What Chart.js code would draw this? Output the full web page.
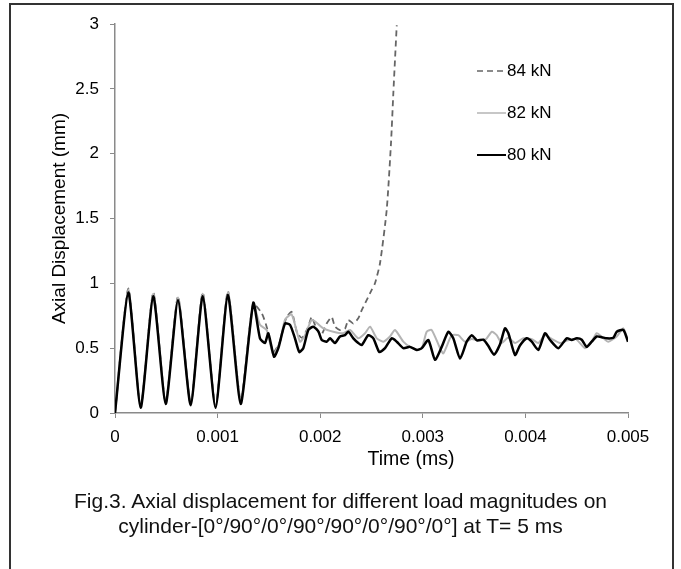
<!DOCTYPE html>
<html>
<head>
<meta charset="utf-8">
<script src="https://cdn.jsdelivr.net/npm/chart.js@4/dist/chart.umd.min.js"></script>
<style>
    body { margin: 0; background: #fff; font-family: "Liberation Sans", Arial, sans-serif; }
    #frame { position: absolute; left: 9px; top: 3px; width: 661px; height: 620px; border: 2px solid #333; }
    #chart { position: absolute; left: 0; top: 0; }
    #caption { position: absolute; left: 0; top: 488px; width: 681px; text-align: center;
               font-size: 21px; line-height: 25px; color: #111; }
</style>
</head>
<body>
<div id="frame"></div>
<canvas id="chart" width="681" height="569"></canvas>
<div id="caption">Fig.3. Axial displacement for different load magnitudes on<br>cylinder-[0°/90°/0°/90°/90°/0°/90°/0°] at T= 5 ms</div>

<script>
// ── Data (time, displacement) ──
const seriesLabels = ["80 kN", "82 kN", "84 kN"];

const t80 = [0, 0.00013, 0.00025, 0.000373, 0.000494, 0.000614, 0.000738, 0.000855, 0.00098, 0.0011, 0.001225, 0.001348,
    0.001413, 0.001462, 0.001494, 0.00155, 0.001592, 0.001657, 0.001706, 0.001754, 0.001796, 0.001835, 0.001884, 0.001933,
    0.001982, 0.002015, 0.002063, 0.002096, 0.002144, 0.002193, 0.002242, 0.002274, 0.002323, 0.002371, 0.002405, 0.002469,
    0.002518, 0.002576, 0.002632, 0.002697, 0.002746, 0.00281, 0.002875, 0.002941, 0.00299, 0.003054, 0.003119, 0.003184,
    0.003249, 0.003297, 0.003363, 0.003428, 0.003477, 0.003528, 0.00359, 0.003636, 0.003694, 0.003753, 0.003801, 0.003834,
    0.003899, 0.003947, 0.004013, 0.004062, 0.004126, 0.004191, 0.00424, 0.004321, 0.004403, 0.004451, 0.0045, 0.004549,
    0.004597, 0.004646, 0.004695, 0.004744, 0.004793, 0.004857, 0.00489, 0.004955, 0.005];
const v80 = [0, 0.93, 0.04, 0.90, 0.07, 0.87, 0.06, 0.90, 0.04, 0.91, 0.07, 0.85,
    0.576, 0.54, 0.615, 0.434, 0.50, 0.69, 0.68, 0.576, 0.47, 0.50, 0.64, 0.666,
    0.63, 0.563, 0.55, 0.576, 0.54, 0.59, 0.60, 0.627, 0.576, 0.54, 0.524, 0.60,
    0.576, 0.47, 0.50, 0.576, 0.55, 0.50, 0.51, 0.486, 0.50, 0.563, 0.41, 0.51,
    0.627, 0.576, 0.42, 0.55, 0.60, 0.56, 0.565, 0.52, 0.45, 0.53, 0.653, 0.615,
    0.447, 0.52, 0.576, 0.55, 0.486, 0.615, 0.563, 0.50, 0.576, 0.563, 0.576, 0.565,
    0.51, 0.55, 0.59, 0.585, 0.576, 0.58, 0.627, 0.64, 0.55];

const t82 = [0, 0.00013, 0.00025, 0.000373, 0.000494, 0.000614, 0.000738, 0.000855, 0.00098, 0.0011, 0.001225, 0.001348,
    0.001413, 0.001478, 0.001543, 0.001608, 0.001657, 0.001722, 0.001803, 0.001852, 0.001917, 0.001959, 0.00203, 0.002128,
    0.002225, 0.002291, 0.002371, 0.002437, 0.002486, 0.002551, 0.002615, 0.00268, 0.002729, 0.00281, 0.002875, 0.002941,
    0.00299, 0.003038, 0.003087, 0.003168, 0.0032, 0.003282, 0.003346, 0.003411, 0.003477, 0.003538, 0.003616, 0.003672,
    0.00372, 0.003769, 0.00383, 0.003899, 0.00398, 0.004062, 0.004126, 0.004191, 0.004259, 0.004337, 0.004415, 0.004493,
    0.004581, 0.004639, 0.004695, 0.004756, 0.004808, 0.00489, 0.004955, 0.005];
const v82 = [0, 0.95, 0.05, 0.92, 0.08, 0.89, 0.07, 0.92, 0.05, 0.93, 0.09, 0.84,
    0.68, 0.64, 0.45, 0.55, 0.72, 0.76, 0.55, 0.60, 0.72, 0.70, 0.653, 0.627,
    0.615, 0.64, 0.576, 0.615, 0.666, 0.576, 0.55, 0.59, 0.64, 0.55, 0.51, 0.49,
    0.50, 0.627, 0.64, 0.50, 0.46, 0.60, 0.60, 0.55, 0.57, 0.56, 0.57, 0.627,
    0.60, 0.54, 0.58, 0.54, 0.576, 0.57, 0.54, 0.60, 0.57, 0.54, 0.56, 0.57,
    0.50, 0.54, 0.615, 0.58, 0.55, 0.59, 0.653, 0.56];

const t84 = [0, 0.00013, 0.00025, 0.000373, 0.000494, 0.000614, 0.000738, 0.000855, 0.00098, 0.0011, 0.001225, 0.001345,
    0.00143, 0.00148, 0.001543, 0.001608, 0.001667, 0.001722, 0.001774, 0.001823, 0.001881, 0.001917, 0.001959, 0.002008,
    0.002063, 0.002112, 0.002144, 0.002193, 0.002242, 0.002274, 0.002323, 0.002371, 0.002405, 0.002453, 0.002502, 0.002534,
    0.002583, 0.002648, 0.00269, 0.002713, 0.002746];
const v84 = [0, 0.96, 0.05, 0.93, 0.08, 0.90, 0.07, 0.93, 0.05, 0.94, 0.10, 0.84,
    0.77, 0.66, 0.47, 0.55, 0.73, 0.78, 0.62, 0.58, 0.66, 0.74, 0.66, 0.60,
    0.69, 0.74, 0.666, 0.64, 0.65, 0.717, 0.69, 0.73, 0.794, 0.87, 0.95, 1.0,
    1.155, 1.565, 2.08, 2.47, 2.99];

const xTicks = [0, 0.001, 0.002, 0.003, 0.004, 0.005];
const xTickLabels = ["0", "0.001", "0.002", "0.003", "0.004", "0.005"];
const yTicks = [0, 0.5, 1, 1.5, 2, 2.5, 3];
const yTickLabels = ["0", "0.5", "1", "1.5", "2", "2.5", "3"];

function pts(t, v) {
    return t.map(function (x, i) { return { x: x, y: v[i] }; });
}

const FONT = "'Liberation Sans', Arial, sans-serif";
const AXIS = "#8a8a8a";

// ── Axis titles + legend drawn inside the frame ──
const decor = {
    id: "decor",
    afterDraw: function (chart) {
        var ctx = chart.ctx, a = chart.chartArea;
        ctx.save();
        ctx.fillStyle = "#000";
        ctx.font = "19.5px " + FONT;
        ctx.textAlign = "center";
        ctx.textBaseline = "middle";
        ctx.fillText("Time (ms)", a.left + 296, a.bottom + 47);
        ctx.font = "19px " + FONT;
        ctx.translate(60, (a.top + a.bottom) / 2);
        ctx.rotate(-Math.PI / 2);
        ctx.fillText("Axial Displacement (mm)", 0, 0);
        ctx.restore();

        // legend: 84, 82, 80 top to bottom
        var order = [2, 1, 0];
        var x0 = a.left + 362, y0 = a.top + 47, gap = 42;
        order.forEach(function (di, k) {
            var ds = chart.data.datasets[di];
            var y = y0 + k * gap;
            ctx.save();
            ctx.strokeStyle = ds.borderColor;
            ctx.lineWidth = ds.legendWidth;
            ctx.setLineDash(ds.borderDash || []);
            ctx.beginPath();
            ctx.moveTo(x0, y);
            ctx.lineTo(x0 + 29, y);
            ctx.stroke();
            ctx.setLineDash([]);
            ctx.fillStyle = "#000";
            ctx.font = "17px " + FONT;
            ctx.textBaseline = "middle";
            ctx.fillText(ds.label, x0 + 30, y);
            ctx.restore();
        });
    }
};

new Chart(document.getElementById("chart"), {
    type: "scatter",
    data: {
        datasets: [
            { label: seriesLabels[0], data: pts(t80, v80), borderColor: "#000", borderWidth: 2.5, legendWidth: 2 },
            { label: seriesLabels[1], data: pts(t82, v82), borderColor: "#b4b4b4", borderWidth: 2, legendWidth: 1.5 },
            { label: seriesLabels[2], data: pts(t84, v84), borderColor: "#666", borderWidth: 1.8, borderDash: [6, 4], legendWidth: 1.3 }
        ].map(function (d) {
            d.showLine = true;
            d.pointRadius = 0;
            d.tension = 0.2;
            d.fill = false;
            return d;
        })
    },
    options: {
        responsive: false,
        animation: false,
        layout: { padding: { top: 24, right: 53, left: 0, bottom: 0 } },
        plugins: { legend: { display: false }, tooltip: { enabled: false } },
        scales: {
            x: {
                type: "linear",
                min: 0,
                max: 0.005,
                afterFit: function (s) { s.height = 156; },
                afterBuildTicks: function (s) { s.ticks = xTicks.map(function (v) { return { value: v }; }); },
                ticks: {
                    color: "#000",
                    font: { family: FONT, size: 17 },
                    padding: 9,
                    maxRotation: 0,
                    callback: function (v, i) { return xTickLabels[i]; }
                },
                grid: { drawOnChartArea: false, drawTicks: true, tickLength: 5, color: AXIS },
                border: { color: AXIS, width: 1.5 }
            },
            y: {
                type: "linear",
                min: 0,
                max: 3,
                afterFit: function (s) { s.width = 115; },
                afterBuildTicks: function (s) { s.ticks = yTicks.map(function (v) { return { value: v }; }); },
                ticks: {
                    color: "#000",
                    font: { family: FONT, size: 17 },
                    padding: 11,
                    callback: function (v, i) { return yTickLabels[i]; }
                },
                grid: { drawOnChartArea: false, drawTicks: true, tickLength: 5, color: AXIS },
                border: { color: AXIS, width: 1.5 }
            }
        }
    },
    plugins: [decor]
});
</script>
</body>
</html>
